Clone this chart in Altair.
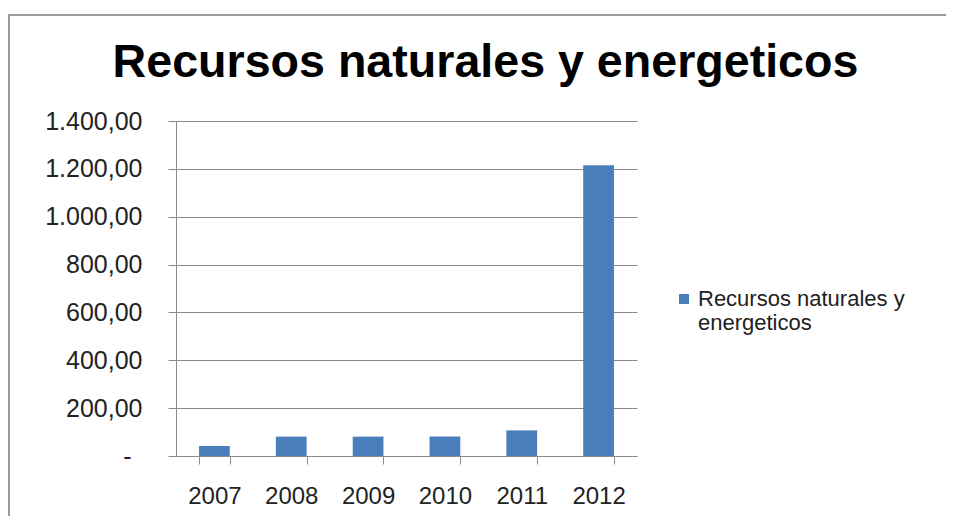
import altair as alt
import pandas as pd

# ---- data ----
years = ["2007", "2008", "2009", "2010", "2011", "2012"]
values = [42.0, 81.0, 81.0, 81.0, 107.0, 1215.0]
series_name = "Recursos naturales y energeticos"
chart_title = "Recursos naturales y energeticos"
legend_lines = ["Recursos naturales y", "energeticos"]
y_ticks = [0, 200, 400, 600, 800, 1000, 1200, 1400]

df = pd.DataFrame({"year": years, "value": values, "serie": [series_name] * len(years)})

FONT = "Liberation Sans"
GRAY = "#8a8a8a"
FRAME = "#9a9a9a"
BLUE = "#4a7ebb"
W, H = 461, 335

label_expr = (
    "datum.value == 0 ? '-' : "
    "replace(replace(replace(format(datum.value, ',.2f'), ',', '_'), '.', ','), '_', '.')"
)

legend_expr = "[" + ", ".join("'" + s + "'" for s in legend_lines) + "]"

bars = alt.Chart(df).mark_bar(color=BLUE).encode(
    x=alt.X(
        "year:N",
        sort=years,
        scale=alt.Scale(paddingInner=0.6, paddingOuter=0.3),
        axis=alt.Axis(
            title=None, labelAngle=0, tickBand="extent", grid=False,
            labelFont=FONT, labelFontSize=24, labelColor="#222222",
            tickSize=8, tickColor=GRAY, domainColor=GRAY, labelPadding=20,
        ),
    ),
    y=alt.Y(
        "value:Q",
        scale=alt.Scale(domain=[0, 1400], nice=False),
        axis=alt.Axis(
            title=None, values=y_ticks, labelExpr=label_expr,
            labelFont=FONT, labelFontSize=25, labelColor="#222222",
            tickSize=8, tickColor=GRAY, domainColor=GRAY,
            grid=True, gridColor=GRAY,
            labelPadding={"condition": {"test": "datum.value == 0", "value": 37}, "value": 26},
        ),
    ),
    color=alt.Color(
        "serie:N",
        scale=alt.Scale(range=[BLUE]),
        legend=alt.Legend(
            title=None, orient="none", legendX=497, legendY=167,
            symbolType="square", symbolSize=100, symbolStrokeWidth=0,
            labelFont=FONT, labelFontSize=22, labelColor="#222222",
            labelLimit=500, labelOffset=3, labelExpr=legend_expr, padding=0,
        ),
    ),
)

frame_data = alt.Data(values=[{"k": 1}])
frame_left = alt.Chart(frame_data).mark_rule(color=FRAME, strokeWidth=2).encode(
    x=alt.value(-167), y=alt.value(-106), y2=alt.value(800)
)
frame_top = alt.Chart(frame_data).mark_rule(color=FRAME, strokeWidth=2).encode(
    x=alt.value(-168), x2=alt.value(1200), y=alt.value(-106)
)

title = alt.Chart(alt.Data(values=[{"t": chart_title}])).mark_text(
    font=FONT, fontSize=46.6, fontWeight="bold", color="#000000",
    align="center", baseline="alphabetic",
).encode(text="t:N", x=alt.value(309.5), y=alt.value(-44))

chart = alt.layer(frame_left, frame_top, bars, title).properties(
    width=W, height=H,
    autosize="none",
    padding={"left": 168, "top": 113, "right": 309, "bottom": 60},
).configure_view(strokeWidth=0)

chart.save("out.html", embed_options={"renderer": "svg", "actions": False})
